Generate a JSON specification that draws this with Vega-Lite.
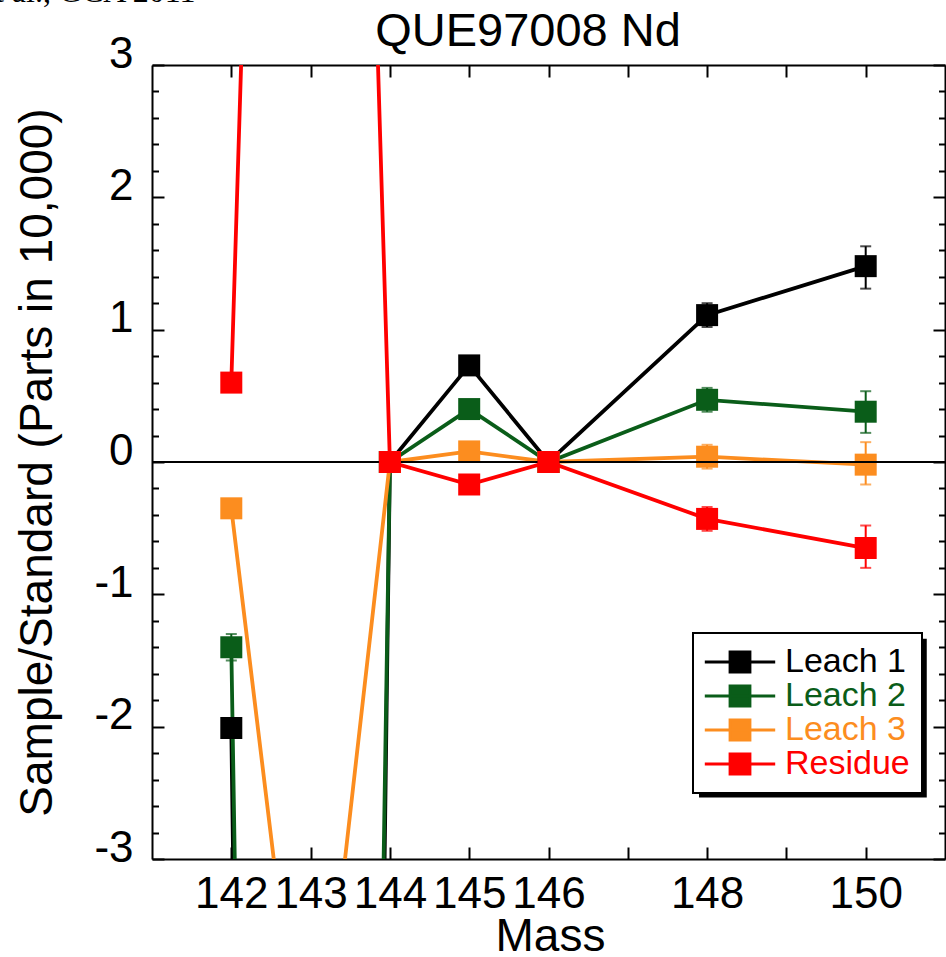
{
  "$schema": "https://vega.github.io/schema/vega-lite/v6.json",
  "width": 793,
  "height": 794,
  "autosize": {"type": "none"},
  "padding": {"left": 152, "top": 65, "right": 1, "bottom": 98},
  "background": "white",
  "config": {
    "font": "Liberation Sans",
    "view": {"stroke": null},
    "axis": {
      "grid": false,
      "domainColor": "black",
      "domainWidth": 2,
      "tickColor": "black",
      "tickWidth": 2,
      "labelColor": "black",
      "titleColor": "black",
      "labelFont": "Liberation Sans",
      "titleFont": "Liberation Sans",
      "labelFontSize": 44,
      "titleFontSize": 46,
      "titleFontWeight": "normal",
      "labelOverlap": false,
      "labelFlush": false
    }
  },
  "datasets": {
    "pts": [
      {"Series": "Leach 1", "Mass": 142, "Value": -2.01},
      {"Series": "Leach 1", "Mass": 143, "Value": -45},
      {"Series": "Leach 1", "Mass": 144, "Value": 0},
      {"Series": "Leach 1", "Mass": 145, "Value": 0.73},
      {"Series": "Leach 1", "Mass": 146, "Value": 0},
      {"Series": "Leach 1", "Mass": 148, "Value": 1.11},
      {"Series": "Leach 1", "Mass": 150, "Value": 1.48},
      {"Series": "Leach 2", "Mass": 142, "Value": -1.40},
      {"Series": "Leach 2", "Mass": 143, "Value": -38},
      {"Series": "Leach 2", "Mass": 144, "Value": 0},
      {"Series": "Leach 2", "Mass": 145, "Value": 0.40},
      {"Series": "Leach 2", "Mass": 146, "Value": 0},
      {"Series": "Leach 2", "Mass": 148, "Value": 0.47},
      {"Series": "Leach 2", "Mass": 150, "Value": 0.38},
      {"Series": "Leach 3", "Mass": 142, "Value": -0.35},
      {"Series": "Leach 3", "Mass": 143, "Value": -5.3},
      {"Series": "Leach 3", "Mass": 144, "Value": 0},
      {"Series": "Leach 3", "Mass": 145, "Value": 0.08},
      {"Series": "Leach 3", "Mass": 146, "Value": 0},
      {"Series": "Leach 3", "Mass": 148, "Value": 0.04},
      {"Series": "Leach 3", "Mass": 150, "Value": -0.02},
      {"Series": "Residue", "Mass": 142, "Value": 0.60},
      {"Series": "Residue", "Mass": 143, "Value": 20},
      {"Series": "Residue", "Mass": 144, "Value": 0},
      {"Series": "Residue", "Mass": 145, "Value": -0.17},
      {"Series": "Residue", "Mass": 146, "Value": 0},
      {"Series": "Residue", "Mass": 148, "Value": -0.43},
      {"Series": "Residue", "Mass": 150, "Value": -0.65}
    ],
    "errs": [
      {"Series": "Leach 1", "Mass": 142, "Lo": -2.07, "Hi": -1.95},
      {"Series": "Leach 1", "Mass": 145, "Lo": 0.67, "Hi": 0.79},
      {"Series": "Leach 1", "Mass": 148, "Lo": 1.02, "Hi": 1.20},
      {"Series": "Leach 1", "Mass": 150, "Lo": 1.31, "Hi": 1.63},
      {"Series": "Leach 2", "Mass": 142, "Lo": -1.50, "Hi": -1.30},
      {"Series": "Leach 2", "Mass": 145, "Lo": 0.34, "Hi": 0.46},
      {"Series": "Leach 2", "Mass": 148, "Lo": 0.38, "Hi": 0.56},
      {"Series": "Leach 2", "Mass": 150, "Lo": 0.22, "Hi": 0.535},
      {"Series": "Leach 3", "Mass": 142, "Lo": -0.41, "Hi": -0.29},
      {"Series": "Leach 3", "Mass": 145, "Lo": 0.02, "Hi": 0.14},
      {"Series": "Leach 3", "Mass": 148, "Lo": -0.05, "Hi": 0.13},
      {"Series": "Leach 3", "Mass": 150, "Lo": -0.17, "Hi": 0.15},
      {"Series": "Residue", "Mass": 142, "Lo": 0.54, "Hi": 0.66},
      {"Series": "Residue", "Mass": 145, "Lo": -0.23, "Hi": -0.11},
      {"Series": "Residue", "Mass": 148, "Lo": -0.52, "Hi": -0.34},
      {"Series": "Residue", "Mass": 150, "Lo": -0.80, "Hi": -0.48}
    ]
  },
  "resolve": {"axis": {"x": "independent", "y": "independent"}},
  "layer": [
    {
      "data": {"values": [{}]},
      "mark": {"type": "rect", "color": "black", "clip": false},
      "encoding": {
        "x": {"datum": 147.898, "type": "quantitative", "scale": {"domain": [141, 151], "nice": false, "zero": false}, "axis": null},
        "x2": {"datum": 150.77},
        "y": {"datum": -1.335, "type": "quantitative", "scale": {"domain": [-3, 3], "nice": false, "zero": false}, "axis": null},
        "y2": {"datum": -2.535}
      }
    },
    {
      "data": {"name": "pts"},
      "transform": [{"filter": "datum.Series != 'Residue'"}],
      "mark": {"type": "line", "strokeWidth": 3.8, "clip": true},
      "encoding": {
        "x": {
          "field": "Mass", "type": "quantitative",
          "scale": {"domain": [141, 151], "nice": false, "zero": false},
          "axis": {
            "orient": "bottom",
            "values": [142, 143, 144, 145, 146, 147, 148, 149, 150],
            "tickSize": -12,
            "labelPadding": 60,
            "labelBaseline": "alphabetic",
            "labelExpr": "datum.value == 147 || datum.value == 149 ? '' : datum.label",
            "title": "Mass",
            "titleX": 398,
            "titleY": 91,
            "titleAlign": "center",
            "titleBaseline": "alphabetic"
          }
        },
        "y": {
          "field": "Value", "type": "quantitative",
          "scale": {"domain": [-3, 3], "nice": false, "zero": false},
          "axis": {
            "orient": "left",
            "values": [-3, -2, -1, 0, 1, 2, 3],
            "tickSize": -12,
            "labelPadding": 31,
            "labelBaseline": "alphabetic",
            "labelOffset": 2,
            "labelExpr": "datum.value < 0 ? '-' + abs(datum.value) : '' + datum.value",
            "title": "Sample/Standard (Parts in 10,000)",
            "titleX": -101,
            "titleY": 397,
            "titleAngle": -90,
            "titleAlign": "center",
            "titleBaseline": "alphabetic"
          }
        },
        "color": {
          "field": "Series", "type": "nominal",
          "scale": {"domain": ["Leach 1", "Leach 2", "Leach 3", "Residue"], "range": ["#000000", "#0a5d19", "#fc8d1f", "#ff0000"]},
          "legend": {
            "title": null,
            "orient": "none",
            "legendX": 541,
            "legendY": 568,
            "symbolType": "M-3.2,0H3.2M-0.9,-0.9H0.9V0.9H-0.9Z",
            "symbolSize": 484,
            "symbolStrokeWidth": 3,
            "symbolOffset": 18,
            "labelOffset": 28,
            "labelFontSize": 34,
            "labelFont": "Liberation Sans",
            "labelLimit": 400,
            "padding": 12,
            "rowPadding": 0,
            "encode": {
              "legend": {"update": {"stroke": {"value": "black"}, "strokeWidth": {"value": 2}, "fill": {"value": "white"}}},
              "symbols": {"update": {"fill": {"scale": "color", "field": "value"}, "stroke": {"scale": "color", "field": "value"}, "opacity": {"value": 1}, "fillOpacity": {"value": 1}}},
              "labels": {"update": {"fill": {"scale": "color", "field": "value"}}}
            }
          }
        }
      }
    },
    {
      "data": {"name": "errs"},
      "mark": {"type": "rule", "strokeWidth": 2, "clip": true},
      "encoding": {
        "x": {
          "field": "Mass", "type": "quantitative",
          "scale": {"domain": [141, 151], "nice": false, "zero": false},
          "axis": {
            "orient": "top",
            "values": [142, 143, 144, 145, 146, 147, 148, 149, 150],
            "tickSize": -12,
            "labels": false,
            "title": "QUE97008 Nd",
            "titleX": 375.5,
            "titleY": -20,
            "titleAlign": "center",
            "titleBaseline": "alphabetic",
            "titleFontSize": 47
          }
        },
        "y": {
          "field": "Lo", "type": "quantitative",
          "scale": {"domain": [-3, 3], "nice": false, "zero": false},
          "axis": {
            "orient": "left",
            "values": [-2.8, -2.6, -2.4, -2.2, -1.8, -1.6, -1.4, -1.2, -0.8, -0.6, -0.4, -0.2, 0.2, 0.4, 0.6, 0.8, 1.2, 1.4, 1.6, 1.8, 2.2, 2.4, 2.6, 2.8],
            "tickSize": -6.5,
            "labels": false,
            "domain": false,
            "title": null
          }
        },
        "y2": {"field": "Hi"},
        "color": {"field": "Series", "type": "nominal", "legend": null}
      }
    },
    {
      "data": {"name": "errs"},
      "mark": {"type": "tick", "orient": "horizontal", "size": 11, "thickness": 2, "clip": true},
      "encoding": {
        "x": {"field": "Mass", "type": "quantitative", "scale": {"domain": [141, 151], "nice": false, "zero": false}, "axis": null},
        "y": {
          "field": "Hi", "type": "quantitative",
          "scale": {"domain": [-3, 3], "nice": false, "zero": false},
          "axis": {
            "orient": "right",
            "values": [-3, -2, -1, 0, 1, 2, 3],
            "tickSize": -12,
            "labels": false,
            "title": "et al., GCA 2011",
            "titleX": -750,
            "titleY": -64,
            "titleAngle": 0,
            "titleAlign": "right",
            "titleBaseline": "alphabetic",
            "titleFont": "Liberation Serif",
            "titleFontSize": 32
          }
        },
        "color": {"field": "Series", "type": "nominal", "legend": null}
      }
    },
    {
      "data": {"name": "errs"},
      "mark": {"type": "tick", "orient": "horizontal", "size": 11, "thickness": 2, "clip": true},
      "encoding": {
        "x": {"field": "Mass", "type": "quantitative", "scale": {"domain": [141, 151], "nice": false, "zero": false}, "axis": null},
        "y": {"field": "Lo", "type": "quantitative", "scale": {"domain": [-3, 3], "nice": false, "zero": false}, "axis": null},
        "color": {"field": "Series", "type": "nominal", "legend": null}
      }
    },
    {
      "data": {"name": "pts"},
      "transform": [{"filter": "datum.Series != 'Residue'"}],
      "mark": {"type": "square", "size": 484, "filled": true, "opacity": 1, "clip": true},
      "encoding": {
        "x": {"field": "Mass", "type": "quantitative", "scale": {"domain": [141, 151], "nice": false, "zero": false}, "axis": null},
        "y": {"field": "Value", "type": "quantitative", "scale": {"domain": [-3, 3], "nice": false, "zero": false}, "axis": null},
        "color": {"field": "Series", "type": "nominal", "legend": null}
      }
    },
    {
      "data": {"values": [{}]},
      "mark": {"type": "rule", "color": "black", "strokeWidth": 2},
      "encoding": {
        "y": {
          "datum": 0, "type": "quantitative",
          "scale": {"domain": [-3, 3], "nice": false, "zero": false},
          "axis": {
            "orient": "right",
            "values": [-2.8, -2.6, -2.4, -2.2, -1.8, -1.6, -1.4, -1.2, -0.8, -0.6, -0.4, -0.2, 0.2, 0.4, 0.6, 0.8, 1.2, 1.4, 1.6, 1.8, 2.2, 2.4, 2.6, 2.8],
            "tickSize": -6.5,
            "labels": false,
            "domain": false,
            "title": null
          }
        }
      }
    },
    {
      "data": {"name": "pts"},
      "transform": [{"filter": "datum.Series == 'Residue'"}],
      "mark": {"type": "line", "strokeWidth": 3.8, "clip": true},
      "encoding": {
        "x": {"field": "Mass", "type": "quantitative", "scale": {"domain": [141, 151], "nice": false, "zero": false}, "axis": null},
        "y": {"field": "Value", "type": "quantitative", "scale": {"domain": [-3, 3], "nice": false, "zero": false}, "axis": null},
        "color": {"field": "Series", "type": "nominal", "legend": null}
      }
    },
    {
      "data": {"name": "pts"},
      "transform": [{"filter": "datum.Series == 'Residue'"}],
      "mark": {"type": "square", "size": 484, "filled": true, "opacity": 1, "clip": true},
      "encoding": {
        "x": {"field": "Mass", "type": "quantitative", "scale": {"domain": [141, 151], "nice": false, "zero": false}, "axis": null},
        "y": {"field": "Value", "type": "quantitative", "scale": {"domain": [-3, 3], "nice": false, "zero": false}, "axis": null},
        "color": {"field": "Series", "type": "nominal", "legend": null}
      }
    }
  ]
}
